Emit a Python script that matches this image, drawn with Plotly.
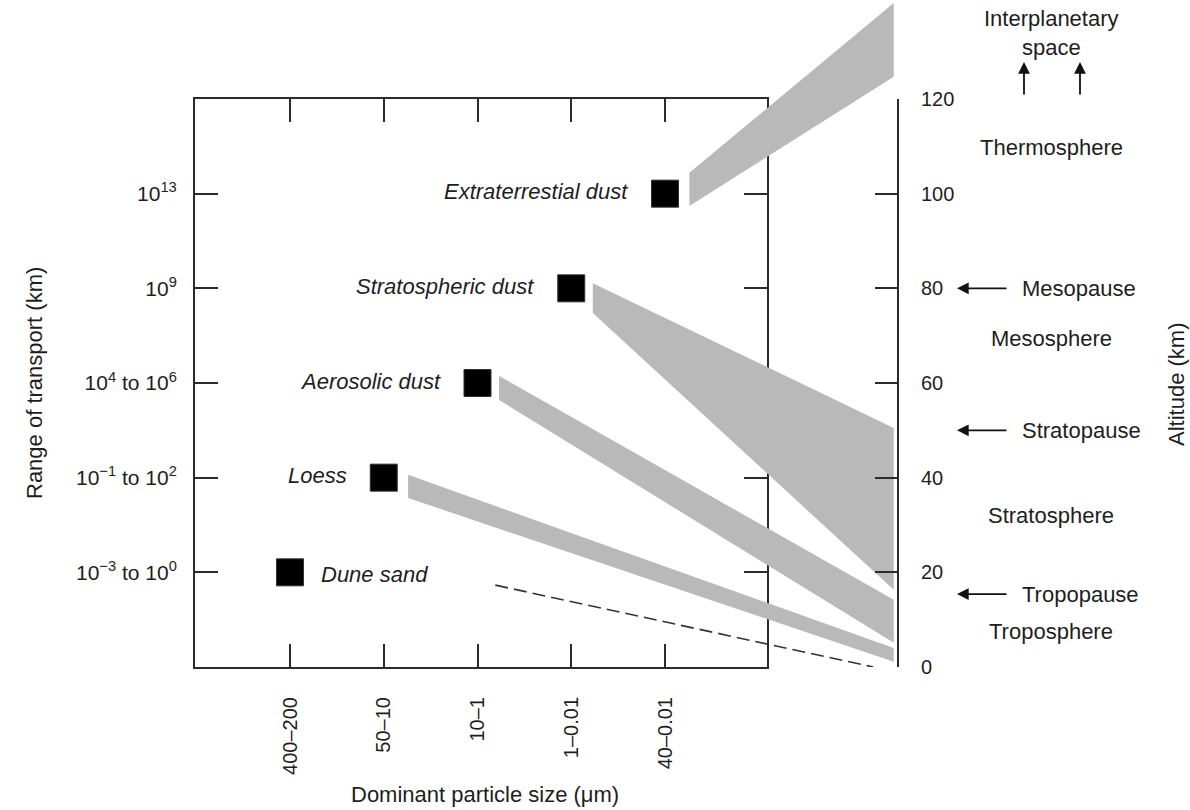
import plotly.graph_objects as go

# ---------------- data ----------------
size_categories = ["400–200", "50–10", "10–1", "1–0.01", "40–0.01"]
size_positions = [1, 2, 3, 4, 5]
dust_types = ["Dune sand", "Loess", "Aerosolic dust", "Stratospheric dust", "Extraterrestial dust"]
dust_altitude = [20, 40, 60, 80, 100]
transport_labels = ["10<sup>−3</sup> to 10<sup>0</sup>", "10<sup>−1</sup> to 10<sup>2</sup>",
                    "10<sup>4</sup> to 10<sup>6</sup>", "10<sup>9</sup>", "10<sup>13</sup>"]
transport_levels = [20, 40, 60, 80, 100]
altitude_ticks = [0, 20, 40, 60, 80, 100, 120]

# transport bands (Loess, Aerosolic, Stratospheric, Extraterrestial)
band_x_start = [2.26, 3.23, 4.23, 5.26]
band_x_end = [7.44, 7.44, 7.44, 7.44]
band_top_start = [40.6, 61.5, 81.1, 104.4]
band_bot_start = [35.7, 56.4, 74.8, 97.4]
band_top_end = [4.0, 14.2, 50.5, 140.3]
band_bot_end = [1.1, 5.1, 16.3, 124.7]

# dune sand (dashed)
dune_x = [3.19, 7.22]
dune_alt = [17.3, 0]

layers = ["Interplanetary<br>space", "Thermosphere", "Mesosphere", "Stratosphere", "Troposphere"]
layers_alt = [134.0, 109.7, 69.3, 32.1, 7.4]
boundaries = ["Mesopause", "Stratopause", "Tropopause"]
boundaries_alt = [80, 50, 15.4]

# ---------------- layout geometry ----------------
W, H = 1190, 810
FONT = "Liberation Sans, Arial, sans-serif"
TXT = "#1e1e1e"
LINE = "#2b2b2b"
px_per_unit = 93.75
x_lo = 1 - (290 - 195) / px_per_unit
x_box_hi = 1 + (767 - 290) / px_per_unit
x_all_hi = 1 + (897 - 290) / px_per_unit
px_per_km = (667 - 99) / 120.0
y_all_hi = 667 / px_per_km

def fx(px):
    return px / W

def fy(py):
    return 1 - py / H

fig = go.Figure()

# bands
for i in range(len(band_x_start)):
    xs = [band_x_start[i], band_x_end[i], band_x_end[i], band_x_start[i], band_x_start[i]]
    ys = [band_top_start[i], band_top_end[i], band_bot_end[i], band_bot_start[i], band_top_start[i]]
    fig.add_trace(go.Scatter(x=xs, y=ys, xaxis="x2", yaxis="y2", mode="lines", fill="toself",
                             fillcolor="#b9b9b9", line=dict(width=0, color="#b9b9b9"),
                             hoverinfo="skip", showlegend=False))

fig.add_trace(go.Scatter(x=dune_x, y=dune_alt, xaxis="x2", yaxis="y2", mode="lines",
                         line=dict(color="#333333", width=1.6, dash="13px,6px"),
                         hoverinfo="skip", showlegend=False))

# squares
fig.add_trace(go.Scatter(x=size_positions, y=dust_altitude, xaxis="x", yaxis="y", mode="markers",
                         marker=dict(symbol="square", size=27, color="#000000",
                                     line=dict(width=1, color="#333333")),
                         showlegend=False, cliponaxis=False))

# invisible trace to anchor right altitude axis
fig.add_trace(go.Scatter(x=[x_lo], y=[0], xaxis="x2", yaxis="y3", mode="markers",
                         marker=dict(opacity=0), hoverinfo="skip", showlegend=False))

annotations = []
for i, name in enumerate(dust_types):
    if name == "Dune sand":
        annotations.append(dict(x=size_positions[i], y=dust_altitude[i], xref="x", yref="y",
                                text="<i>" + name + "</i>", showarrow=False, xanchor="left",
                                yanchor="middle", xshift=29, yshift=-2,
                                font=dict(family=FONT, size=22, color=TXT)))
    else:
        annotations.append(dict(x=size_positions[i], y=dust_altitude[i], xref="x", yref="y",
                                text="<i>" + name + "</i>", showarrow=False, xanchor="right",
                                yanchor="middle", xshift=-35, yshift=2,
                                font=dict(family=FONT, size=22, color=TXT)))

for name, alt in zip(layers, layers_alt):
    annotations.append(dict(x=fx(1051), y=alt, xref="paper", yref="y2", text=name, showarrow=False,
                            xanchor="center", yanchor="middle",
                            font=dict(family=FONT, size=22, color=TXT)))
for name, alt in zip(boundaries, boundaries_alt):
    annotations.append(dict(x=fx(1020), y=alt, xref="paper", yref="y2", text=name, showarrow=False,
                            xanchor="left", yanchor="middle",
                            font=dict(family=FONT, size=22, color=TXT)))
    annotations.append(dict(x=fx(957), y=alt, xref="paper", yref="y2", text="", showarrow=True,
                            ax=51, ay=0, arrowhead=2, arrowsize=1.3,
                            arrowwidth=1.8, arrowcolor="#111111"))
for xp in [1024, 1080]:
    annotations.append(dict(x=fx(xp), y=(667 - 62) / px_per_km, xref="paper", yref="y2", text="",
                            showarrow=True, ax=0, ay=34, arrowhead=2, arrowsize=1.3, arrowwidth=1.8,
                            arrowcolor="#111111"))

annotations.append(dict(x=fx(35), y=fy(383), xref="paper", yref="paper", text="Range of transport (km)",
                        textangle=-90, showarrow=False, xanchor="center", yanchor="middle",
                        font=dict(family=FONT, size=22, color=TXT)))
annotations.append(dict(x=fx(1176), y=fy(385), xref="paper", yref="paper", text="Altitude (km)",
                        textangle=-90, showarrow=False, xanchor="center", yanchor="middle",
                        font=dict(family=FONT, size=22, color=TXT)))
annotations.append(dict(x=fx(485), y=fy(794), xref="paper", yref="paper",
                        text="Dominant particle size (μm)", showarrow=False,
                        xanchor="center", yanchor="middle",
                        font=dict(family=FONT, size=22, color=TXT)))

fig.update_layout(
    width=W, height=H, margin=dict(l=0, r=0, t=0, b=0, pad=0, autoexpand=False),
    paper_bgcolor="white", plot_bgcolor="rgba(0,0,0,0)",
    font=dict(family=FONT, color=TXT),
    showlegend=False,
    xaxis=dict(domain=[fx(195), fx(767)], range=[x_lo, x_box_hi], anchor="y", automargin=False,
               tickvals=size_positions, ticktext=size_categories, tickangle=-90,
               ticks="inside", ticklen=23, tickwidth=2, tickcolor=LINE,
               showline=True, linewidth=2, linecolor=LINE, mirror="ticks",
               showgrid=False, zeroline=False, ticklabelstandoff=20,
               tickfont=dict(family=FONT, size=20, color=TXT)),
    yaxis=dict(domain=[fy(667), fy(99)], range=[0, 120], anchor="x", automargin=False,
               tickvals=transport_levels, ticktext=transport_labels,
               ticks="inside", ticklen=23, tickwidth=2, tickcolor=LINE,
               showline=True, linewidth=2, linecolor=LINE, mirror="ticks",
               showgrid=False, zeroline=False, ticklabelstandoff=12,
               tickfont=dict(family=FONT, size=21, color=TXT)),
    xaxis2=dict(domain=[fx(195), fx(897)], range=[x_lo, x_all_hi], anchor="y2", visible=False,
                automargin=False),
    yaxis2=dict(domain=[fy(667), 1.0], range=[0, y_all_hi], anchor="x2", visible=False,
                automargin=False),
    yaxis3=dict(domain=[fy(667), fy(99)], range=[0, 120], anchor="x2", side="right", automargin=False,
                tickvals=altitude_ticks, ticks="inside", ticklen=22, tickwidth=2, tickcolor=LINE,
                showline=True, linewidth=2, linecolor=LINE, showgrid=False, zeroline=False,
                ticklabelstandoff=18, tickfont=dict(family=FONT, size=20, color=TXT)),
    annotations=annotations,
)

fig.write_html("out.html")
